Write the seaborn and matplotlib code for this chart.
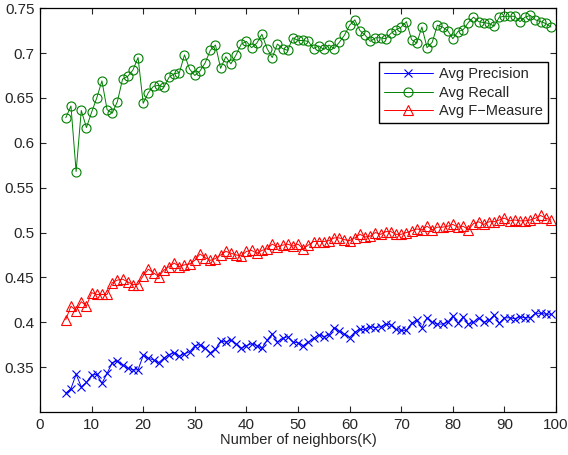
import numpy as np
import pandas as pd
import seaborn as sns
import matplotlib
matplotlib.use("Agg")
import matplotlib.pyplot as plt

# values, K = 5..99
k_values = list(range(5, 100))

avg_precision = [
    0.321, 0.326, 0.342, 0.328, 0.333, 0.341, 0.342, 0.332, 0.343, 0.355,
    0.357, 0.352, 0.349, 0.347, 0.347, 0.363, 0.360, 0.358, 0.355, 0.360,
    0.364, 0.366, 0.362, 0.365, 0.367, 0.374, 0.375, 0.371, 0.366, 0.370,
    0.379, 0.378, 0.380, 0.376, 0.371, 0.374, 0.376, 0.374, 0.371, 0.380,
    0.387, 0.378, 0.382, 0.384, 0.378, 0.377, 0.374, 0.378, 0.382, 0.386,
    0.384, 0.386, 0.394, 0.390, 0.387, 0.383, 0.389, 0.392, 0.392, 0.395,
    0.394, 0.395, 0.398, 0.397, 0.392, 0.391, 0.391, 0.399, 0.402, 0.394,
    0.405, 0.400, 0.398, 0.398, 0.400, 0.407, 0.399, 0.406, 0.398, 0.400,
    0.405, 0.400, 0.402, 0.408, 0.399, 0.405, 0.405, 0.404, 0.406, 0.405,
    0.405, 0.410, 0.410, 0.409, 0.409,
]

avg_recall = [
    0.628, 0.641, 0.568, 0.636, 0.617, 0.634, 0.650, 0.669, 0.637, 0.633,
    0.646, 0.671, 0.674, 0.681, 0.695, 0.644, 0.656, 0.663, 0.664, 0.662,
    0.673, 0.677, 0.678, 0.698, 0.682, 0.675, 0.680, 0.689, 0.703, 0.709,
    0.683, 0.696, 0.688, 0.698, 0.710, 0.713, 0.706, 0.711, 0.721, 0.705,
    0.695, 0.710, 0.705, 0.703, 0.717, 0.714, 0.714, 0.713, 0.705, 0.708,
    0.704, 0.709, 0.705, 0.712, 0.720, 0.731, 0.737, 0.725, 0.720, 0.713,
    0.717, 0.717, 0.716, 0.722, 0.726, 0.729, 0.735, 0.715, 0.711, 0.729,
    0.706, 0.712, 0.731, 0.729, 0.725, 0.716, 0.724, 0.726, 0.734, 0.740,
    0.735, 0.734, 0.733, 0.730, 0.740, 0.741, 0.741, 0.741, 0.735, 0.740,
    0.742, 0.737, 0.735, 0.733, 0.729,
]

avg_fmeasure = [
    0.403, 0.418, 0.413, 0.423, 0.418, 0.433, 0.431, 0.431, 0.431, 0.444,
    0.447, 0.448, 0.445, 0.442, 0.442, 0.452, 0.459, 0.455, 0.451, 0.458,
    0.462, 0.466, 0.462, 0.464, 0.465, 0.469, 0.476, 0.472, 0.469, 0.471,
    0.475, 0.479, 0.477, 0.475, 0.474, 0.479, 0.480, 0.477, 0.480, 0.482,
    0.487, 0.484, 0.486, 0.487, 0.485, 0.487, 0.482, 0.486, 0.490, 0.490,
    0.490, 0.491, 0.494, 0.494, 0.492, 0.491, 0.494, 0.498, 0.495, 0.496,
    0.500, 0.498, 0.501, 0.501, 0.498, 0.498, 0.500, 0.502, 0.504, 0.503,
    0.507, 0.503, 0.506, 0.506, 0.507, 0.509, 0.506, 0.507, 0.503, 0.510,
    0.512, 0.509, 0.512, 0.512, 0.514, 0.516, 0.513, 0.514, 0.513, 0.513,
    0.514, 0.516, 0.519, 0.516, 0.514,
]

series_names = ["Avg Precision", "Avg Recall", "Avg F\u2212Measure"]
series_colors = ["#0000ff", "#008000", "#ff0000"]
series_markers = ["x", "o", "^"]
marker_sizes = [5.5, 6.5, 7]

sns.set_style("ticks")
plt.rcParams["font.family"] = ["Liberation Sans", "DejaVu Sans"]
plt.rcParams["xtick.direction"] = "in"
plt.rcParams["ytick.direction"] = "in"
plt.rcParams["legend.edgecolor"] = "black"

fig = plt.figure(figsize=(5.68, 4.55), dpi=100)
ax = fig.add_axes([0.0704, 0.0945, 0.9086, 0.8875])

df = pd.DataFrame({"K": k_values,
                   series_names[0]: avg_precision,
                   series_names[1]: avg_recall,
                   series_names[2]: avg_fmeasure})

for name, color, marker, ms in zip(series_names, series_colors, series_markers, marker_sizes):
    sns.lineplot(data=df, x="K", y=name, ax=ax, color=color, label=name,
                 marker=marker, markersize=ms,
                 markerfacecolor="none", markeredgecolor=color,
                 markeredgewidth=0.8, linewidth=0.7)

ax.set_xlim(0, 100)
ax.set_ylim(0.3, 0.75)
ax.set_xticks(range(0, 101, 10))
yt = [0.35, 0.4, 0.45, 0.5, 0.55, 0.6, 0.65, 0.7, 0.75]
ax.set_yticks(yt)
ax.set_yticklabels([f"{v:g}" for v in yt])
ax.tick_params(labelsize=11, length=4.5, width=0.8, top=True, right=True, pad=4)
for s in ax.spines.values():
    s.set_visible(True)
    s.set_linewidth(0.9)
    s.set_color("black")

ax.set_xlabel("Number of neighbors(K)", fontsize=10.5, labelpad=1)
ax.set_ylabel("")

leg = ax.legend(loc="upper right", bbox_to_anchor=(0.9845, 0.866),
                fontsize=10.5, frameon=True, fancybox=False, numpoints=1,
                handlelength=3.4, borderpad=0.35, labelspacing=0.3,
                handletextpad=0.4, borderaxespad=0, framealpha=1)
leg.get_frame().set_edgecolor((0, 0, 0, 1))
leg.get_frame().set_linewidth(1.0)

fig.savefig("out.png", dpi=100)
